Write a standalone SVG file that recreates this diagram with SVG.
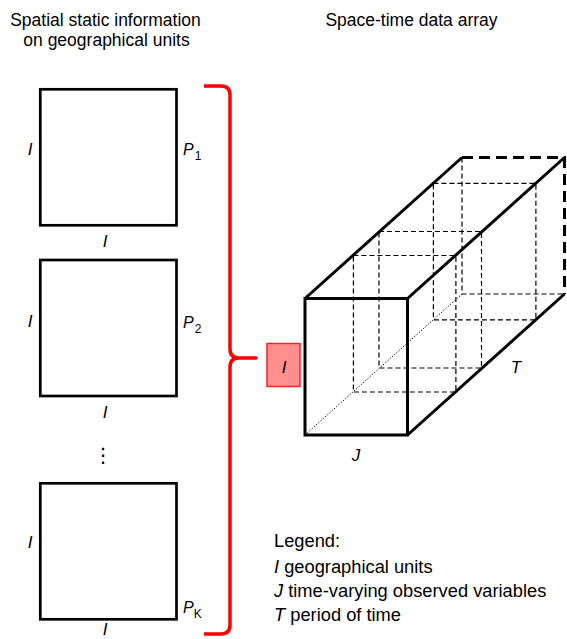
<svg xmlns="http://www.w3.org/2000/svg" width="567" height="639" viewBox="0 0 567 639">
<style>
text{font-family:"Liberation Sans",Arial,sans-serif;fill:#000}
.t{font-size:17.5px;text-anchor:middle}
.lab{font-size:17px;font-style:italic;text-anchor:middle}
.p{font-size:16px;font-style:italic}
.sub{font-size:12px;font-style:normal}
.leg{font-size:18.3px}
.sq{fill:none;stroke:#000;stroke-width:2.7}
.solid{fill:none;stroke:#000;stroke-width:3;stroke-linejoin:miter}
.thin{fill:none;stroke:#000;stroke-width:1.2;stroke-dasharray:5 3}
.thick{fill:none;stroke:#000;stroke-width:3;stroke-dasharray:11 6}
.dot{fill:none;stroke:#000;stroke-width:1;stroke-dasharray:1.3 1.7}
</style>
<g id="titles">
<text class="t" x="105.5" y="26">Spatial static information</text>
<text class="t" x="106.5" y="45.5">on geographical units</text>
<text class="t" x="411.5" y="26">Space-time data array</text>
</g>
<g id="unit1">
<rect class="sq" x="40.3" y="89.3" width="136.2" height="136"/>
<text class="lab" x="30" y="155">I</text>
<text class="lab" x="105" y="246.5">I</text>
<text class="p" x="183" y="154.5">P<tspan class="sub" dx="1" dy="5">1</tspan></text>
</g>
<g id="unit2">
<rect class="sq" x="40.3" y="260" width="136.2" height="136"/>
<text class="lab" x="30" y="327">I</text>
<text class="lab" x="105" y="418">I</text>
<text class="p" x="183" y="327.5">P<tspan class="sub" dx="1" dy="5">2</tspan></text>
</g>
<g id="ellipsis">
<text x="103" y="462" style="font-family:'DejaVu Sans',sans-serif;font-size:20px;text-anchor:middle">⋮</text>
</g>
<g id="unitK">
<rect class="sq" x="40.3" y="483.3" width="136.2" height="136"/>
<text class="lab" x="30" y="548">I</text>
<text class="lab" x="105" y="634.5">I</text>
<text class="p" x="183" y="613">P<tspan class="sub" dx="0" dy="5">K</tspan></text>
</g>
<g id="connectors">
<path d="M204,86 L221,86 Q230,86 230,95 L230,349 Q230,358 239,358 L256,358 L239,358 Q230,358 230,367 L230,625 Q230,634 221,634 L204,634" fill="none" stroke="#ff0000" stroke-width="3.5" stroke-linejoin="round"/>
</g>
<g id="selectedI">
<rect x="267" y="343.5" width="33" height="43" fill="#ff8f8f" stroke="#ff2020" stroke-width="1.5"/>
<text class="lab" x="284" y="372.7">I</text>
</g>
<g id="cube">
<rect class="thin" x="353.4" y="255.5" width="102.5" height="136.5"/>
<rect class="thin" x="379" y="231.5" width="102.5" height="136.5"/>
<rect class="thin" x="433.4" y="183.3" width="102.5" height="136.5"/>
<path class="thin" d="M462,157.5 L462,294 L564.5,294"/>
<path class="dot" d="M305,435 L462,294"/>
<path class="thick" d="M462,157.5 L564.5,157.5 L564.5,294"/>
<rect class="solid" x="305" y="298.5" width="102.5" height="136.5"/>
<path class="solid" d="M305,298.5 L462,157.5 M407.5,298.5 L564.5,157.5 M407.5,435 L564.5,294"/>
<text class="lab" x="356" y="461">J</text>
<text class="lab" x="516" y="372.7">T</text>
</g>
<g id="legend">
<text class="leg" x="274" y="547">Legend:</text>
<text class="leg" x="274" y="572.5"><tspan font-style="italic">I</tspan> geographical units</text>
<text class="leg" x="274" y="597"><tspan font-style="italic">J</tspan> time-varying observed variables</text>
<text class="leg" x="274" y="620.5"><tspan font-style="italic">T</tspan> period of time</text>
</g>
</svg>
